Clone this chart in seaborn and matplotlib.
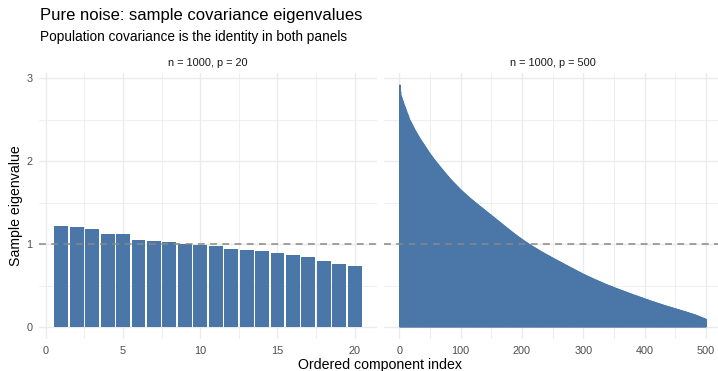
import matplotlib
matplotlib.use("Agg")
import matplotlib.pyplot as plt
import seaborn as sns
import pandas as pd
import numpy as np

# ---------------- data ----------------
panel_labels = ["n = 1000, p = 20", "n = 1000, p = 500"]

eig_p20 = [1.224, 1.212, 1.188, 1.116, 1.116, 1.055, 1.043, 1.031, 0.999, 0.995,
           0.979, 0.946, 0.934, 0.922, 0.890, 0.874, 0.850, 0.801, 0.765, 0.741]

eig_p500 = [
    2.920, 2.840, 2.790, 2.768, 2.745, 2.722, 2.700, 2.680, 2.660, 2.640,
    2.620, 2.600, 2.580, 2.560, 2.540, 2.520, 2.500, 2.486, 2.471, 2.457,
    2.442, 2.428, 2.413, 2.399, 2.384, 2.370, 2.358, 2.345, 2.332, 2.320,
    2.308, 2.295, 2.282, 2.270, 2.259, 2.248, 2.236, 2.225, 2.214, 2.202,
    2.191, 2.180, 2.169, 2.158, 2.146, 2.135, 2.124, 2.112, 2.101, 2.090,
    2.080, 2.070, 2.060, 2.050, 2.040, 2.030, 2.020, 2.010, 2.001, 1.992,
    1.983, 1.974, 1.965, 1.955, 1.946, 1.937, 1.928, 1.919, 1.910, 1.901,
    1.892, 1.883, 1.874, 1.865, 1.856, 1.847, 1.838, 1.830, 1.821, 1.812,
    1.803, 1.794, 1.785, 1.777, 1.770, 1.762, 1.755, 1.747, 1.739, 1.732,
    1.724, 1.716, 1.709, 1.701, 1.694, 1.686, 1.678, 1.670, 1.663, 1.655,
    1.648, 1.642, 1.635, 1.628, 1.622, 1.615, 1.608, 1.602, 1.595, 1.588,
    1.582, 1.575, 1.568, 1.562, 1.555, 1.549, 1.543, 1.537, 1.531, 1.525,
    1.519, 1.512, 1.506, 1.500, 1.494, 1.488, 1.482, 1.476, 1.470, 1.464,
    1.458, 1.452, 1.446, 1.441, 1.435, 1.429, 1.423, 1.417, 1.411, 1.405,
    1.399, 1.393, 1.387, 1.381, 1.375, 1.370, 1.364, 1.358, 1.352, 1.346,
    1.340, 1.334, 1.328, 1.322, 1.316, 1.310, 1.304, 1.298, 1.292, 1.286,
    1.280, 1.275, 1.269, 1.263, 1.257, 1.251, 1.245, 1.239, 1.233, 1.227,
    1.221, 1.215, 1.209, 1.203, 1.197, 1.191, 1.185, 1.180, 1.174, 1.168,
    1.162, 1.156, 1.150, 1.144, 1.138, 1.133, 1.127, 1.121, 1.115, 1.110,
    1.104, 1.099, 1.094, 1.088, 1.083, 1.078, 1.072, 1.067, 1.062, 1.056,
    1.051, 1.046, 1.040, 1.035, 1.030, 1.025, 1.020, 1.015, 1.010, 1.005,
    1.000, 0.995, 0.990, 0.986, 0.981, 0.977, 0.972, 0.968, 0.963, 0.959,
    0.954, 0.950, 0.945, 0.941, 0.936, 0.932, 0.927, 0.923, 0.918, 0.914,
    0.909, 0.905, 0.901, 0.897, 0.893, 0.889, 0.885, 0.880, 0.876, 0.872,
    0.868, 0.864, 0.860, 0.856, 0.852, 0.848, 0.844, 0.839, 0.835, 0.831,
    0.827, 0.823, 0.819, 0.815, 0.811, 0.807, 0.803, 0.799, 0.795, 0.792,
    0.788, 0.784, 0.780, 0.776, 0.772, 0.768, 0.764, 0.760, 0.756, 0.752,
    0.748, 0.744, 0.740, 0.737, 0.733, 0.729, 0.725, 0.721, 0.717, 0.713,
    0.709, 0.705, 0.701, 0.698, 0.694, 0.690, 0.686, 0.682, 0.678, 0.674,
    0.670, 0.666, 0.662, 0.659, 0.655, 0.651, 0.647, 0.643, 0.639, 0.635,
    0.632, 0.628, 0.625, 0.621, 0.618, 0.615, 0.611, 0.608, 0.604, 0.601,
    0.598, 0.594, 0.591, 0.587, 0.584, 0.580, 0.577, 0.574, 0.570, 0.567,
    0.564, 0.560, 0.557, 0.554, 0.551, 0.548, 0.544, 0.541, 0.538, 0.535,
    0.531, 0.528, 0.525, 0.522, 0.518, 0.515, 0.512, 0.509, 0.506, 0.503,
    0.500, 0.497, 0.494, 0.492, 0.489, 0.486, 0.483, 0.480, 0.477, 0.474,
    0.471, 0.468, 0.465, 0.463, 0.460, 0.457, 0.454, 0.451, 0.449, 0.446,
    0.443, 0.440, 0.438, 0.435, 0.432, 0.429, 0.427, 0.424, 0.421, 0.418,
    0.416, 0.413, 0.410, 0.407, 0.405, 0.402, 0.399, 0.396, 0.394, 0.391,
    0.388, 0.385, 0.383, 0.380, 0.377, 0.375, 0.372, 0.370, 0.367, 0.364,
    0.362, 0.359, 0.357, 0.354, 0.351, 0.349, 0.346, 0.344, 0.341, 0.338,
    0.335, 0.333, 0.330, 0.328, 0.325, 0.323, 0.320, 0.317, 0.315, 0.312,
    0.310, 0.307, 0.305, 0.302, 0.299, 0.297, 0.295, 0.292, 0.290, 0.287,
    0.285, 0.283, 0.280, 0.278, 0.275, 0.273, 0.271, 0.268, 0.266, 0.263,
    0.261, 0.258, 0.256, 0.254, 0.252, 0.249, 0.247, 0.245, 0.243, 0.241,
    0.238, 0.236, 0.234, 0.232, 0.230, 0.227, 0.225, 0.223, 0.221, 0.218,
    0.216, 0.214, 0.211, 0.209, 0.207, 0.205, 0.202, 0.200, 0.198, 0.196,
    0.193, 0.191, 0.189, 0.187, 0.184, 0.182, 0.180, 0.177, 0.175, 0.173,
    0.170, 0.168, 0.166, 0.163, 0.161, 0.159, 0.156, 0.154, 0.152, 0.149,
    0.147, 0.145, 0.142, 0.139, 0.136, 0.133, 0.130, 0.127, 0.124, 0.121,
    0.118, 0.115, 0.112, 0.109, 0.106, 0.103, 0.100, 0.097, 0.094, 0.090,
]

x_ticks_p20 = [0, 5, 10, 15, 20]
x_ticks_p500 = [0, 100, 200, 300, 400, 500]
y_ticks = [0, 1, 2, 3]
reference_level = 1.0

title = "Pure noise: sample covariance eigenvalues"
subtitle = "Population covariance is the identity in both panels"
x_label = "Ordered component index"
y_label = "Sample eigenvalue"

# ---------------- style ----------------
sns.set_style("white")
plt.rcParams["font.family"] = ["Liberation Sans", "DejaVu Sans"]

BAR = "#4A77A8"
GRID = "#EBEBEB"
W, H = 718, 371
fig = plt.figure(figsize=(W / 100, H / 100), dpi=100)
fig.patch.set_facecolor("white")

def fx(px):
    return px / W

def fy(py):
    return 1 - py / H

top_px, bot_px = 73, 339
ax1 = fig.add_axes([fx(39), fy(bot_px), fx(377 - 39), (bot_px - top_px) / H])
ax2 = fig.add_axes([fx(384.3), fy(bot_px), fx(721.6 - 384.3), (bot_px - top_px) / H])

df1 = pd.DataFrame({"k": np.arange(1, len(eig_p20) + 1), "ev": eig_p20})
df2 = pd.DataFrame({"k": np.arange(1, len(eig_p500) + 1), "ev": eig_p500})

sns.barplot(data=df1, x="k", y="ev", native_scale=True, width=0.9, color=BAR,
            saturation=1, errorbar=None, linewidth=0, ax=ax1, zorder=2)
sns.barplot(data=df2, x="k", y="ev", native_scale=True, width=0.9, color=BAR,
            saturation=1, errorbar=None, linewidth=0.9, edgecolor=BAR, ax=ax2, zorder=2)
for p in ax2.patches:
    p.set_snap(False)

ylim = (-0.146, 3.066)
for ax, n, xt, mt in [(ax1, len(eig_p20), x_ticks_p20, [2.5, 7.5, 12.5, 17.5]),
                      (ax2, len(eig_p500), x_ticks_p500, [50, 150, 250, 350, 450])]:
    span = (n + 0.45) - 0.55
    ax.set_xlim(0.55 - 0.05 * span, n + 0.45 + 0.05 * span)
    ax.set_ylim(*ylim)
    ax.set_xticks(xt)
    ax.set_xticklabels([str(v) for v in xt])
    ax.set_yticks(y_ticks)
    ax.set_xticks(mt, minor=True)
    ax.set_yticks([0.5, 1.5, 2.5], minor=True)
    ax.grid(True, which="major", color=GRID, linewidth=1.0, zorder=0)
    ax.grid(True, which="minor", color=GRID, linewidth=0.55, zorder=0)
    ax.set_axisbelow(True)
    for s in ax.spines.values():
        s.set_visible(False)
    ax.tick_params(axis="both", which="both", length=0, labelsize=7.8,
                   labelcolor="#4D4D4D")
    ax.tick_params(axis="x", pad=5)
    ax.tick_params(axis="y", pad=4.5)
    ax.axhline(reference_level, color="#888888", linewidth=1.1,
               linestyle=(0, (4.5, 3.5)), zorder=3)
    ax.set_xlabel("")
    ax.set_ylabel("")
    ax.set_facecolor("white")

ax2.tick_params(axis="y", labelleft=False)

# strip labels
fig.text(fx((39 + 377) / 2), fy(63), panel_labels[0], ha="center", va="center",
         fontsize=7.9, color="#1A1A1A")
fig.text(fx((384.3 + 721.6) / 2), fy(63), panel_labels[1], ha="center", va="center",
         fontsize=7.9, color="#1A1A1A")

# titles
fig.text(fx(40), fy(20), title, ha="left", va="baseline", fontsize=12, color="black")
fig.text(fx(40), fy(41), subtitle, ha="left", va="baseline", fontsize=9.8, color="black")

# axis titles
fig.text(fx(380), fy(368.5), x_label, ha="center", va="baseline", fontsize=10.2,
         color="black")
fig.text(fx(16), fy(206), y_label, ha="center", va="center", rotation=90,
         fontsize=10.2, color="black")

fig.savefig("out.png", dpi=100, facecolor="white")
